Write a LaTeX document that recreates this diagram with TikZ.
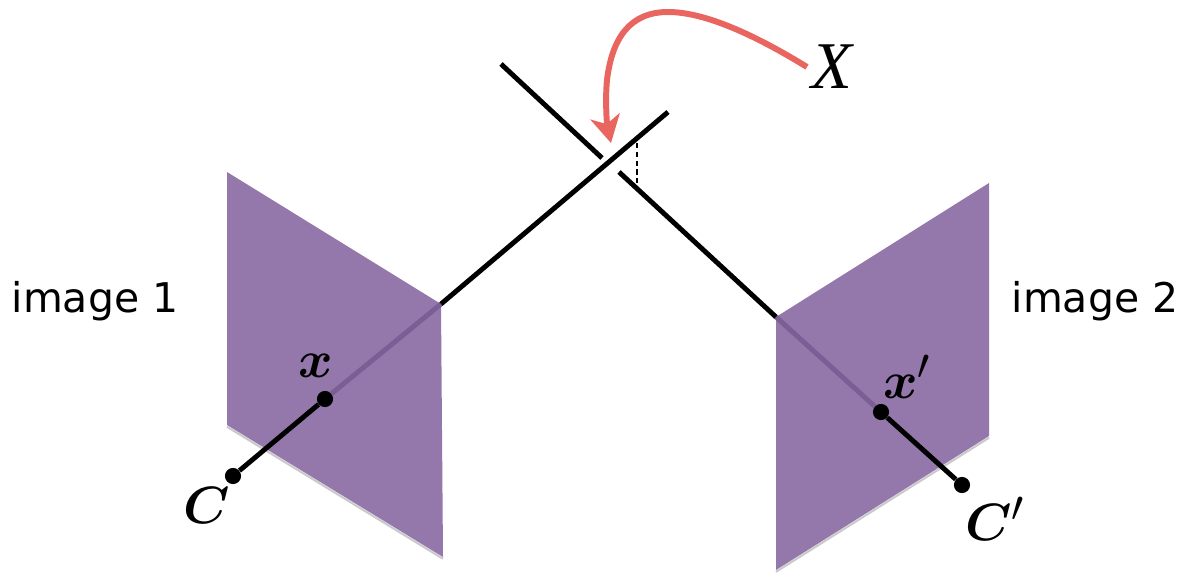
\documentclass[tikz,border=0pt]{standalone}
\usepackage{amsmath,amssymb}
\usepackage{fontspec}
\usepackage{xcolor}
\usepackage{tikz}
\usetikzlibrary{arrows.meta}
\newfontfamily\labelfont{DejaVu Sans}
\newfontfamily\pointfont{Liberation Serif}
\definecolor{planecol}{HTML}{9477AB}
\definecolor{raycol}{HTML}{7A5F96}
\definecolor{arrowcol}{HTML}{E9655F}

\begin{document}
\begin{tikzpicture}[x=0.02cm,y=-0.02cm,
 plane/.style={fill=planecol,draw=none},
 planeedge/.style={draw=black!35,line width=1.2pt,opacity=0.6},
 ray/.style={line width=2.8pt,black},
 hidden/.style={line width=2.8pt,raycol},
 point/.style={circle,fill=black,minimum size=9.2pt,inner sep=0pt},
 sym/.style={font=\fontsize{24.88}{30}\selectfont,inner sep=0pt,scale=1.2},
 imglabel/.style={font=\labelfont\fontsize{23.3}{28}\selectfont,inner sep=0pt}]
\useasboundingbox (0,0) rectangle (1180,572);
\coordinate (a1) at (227,172);
\coordinate (a2) at (441,304);
\coordinate (a3) at (443,557);
\coordinate (a4) at (227,425);
\coordinate (b1) at (989,183);
\coordinate (b2) at (776,317);
\coordinate (b3) at (776,570);
\coordinate (b4) at (989,436);
% soft edges under the planes
\draw[planeedge] ([yshift=-1pt]a4) -- ([yshift=-1pt]a3);
\draw[planeedge] ([yshift=-1pt]b3) -- ([yshift=-1pt]b4);
\fill[plane] (a1)--(a2)--(a3)--(a4)--cycle;
\fill[plane] (b1)--(b2)--(b3)--(b4)--cycle;
\node[point] (C) at (233,476) {};
\node[point] (x) at (325,399) {};
\node[point] (Cp) at (962,485) {};
\node[point] (xp) at (881,412) {};
\coordinate (rayAend) at (668,112);
\coordinate (rayBgapa) at (619,172);
\coordinate (rayBgapb) at (602,158);
\coordinate (rayBend) at (501,64);
\coordinate (dasha) at (637,143);
\coordinate (dashb) at (637,186);
\draw[hidden] (x)--(a2);
\draw[hidden] (xp)--(b2);
\draw[ray] (C)--(x);
\draw[ray] (Cp)--(xp);
\draw[ray] (a2)--(rayAend);
\draw[ray] (b2)--(rayBgapa);
\draw[ray] (rayBgapb)--(rayBend);
\draw[line width=1pt,densely dashed] (dasha)--(dashb);
\node[inner sep=0pt,font=\pointfont\itshape\fontsize{38}{40}\selectfont] (X) at (832,67) {X};
\node[sym] (xlab) at (316,366) {$\boldsymbol{x}$};
\node[sym] (xplab) at (907,377) {$\boldsymbol{x}'$};
\node[sym] (Clab) at (207,505) {$\boldsymbol{C}$};
\node[sym] (Cplab) at (995,519) {$\boldsymbol{C}'$};
\node[imglabel] (img1) at (95,301) {image 1};
\node[imglabel] (img2) at (1095,301) {image 2};
\coordinate (arrowstart) at (807,67);
\coordinate (arrowend) at (611,143);
\draw[arrowcol,line width=3.4pt,-{Stealth[length=15.5pt,width=17pt,inset=4.5pt]}] (arrowstart)
 .. controls (755,35) and (705,12) .. (668,12)
 .. controls (630,12) and (612,38) .. (607,80)
 .. controls (605,100) and (607,125) .. (arrowend);
\end{tikzpicture}
\end{document}
